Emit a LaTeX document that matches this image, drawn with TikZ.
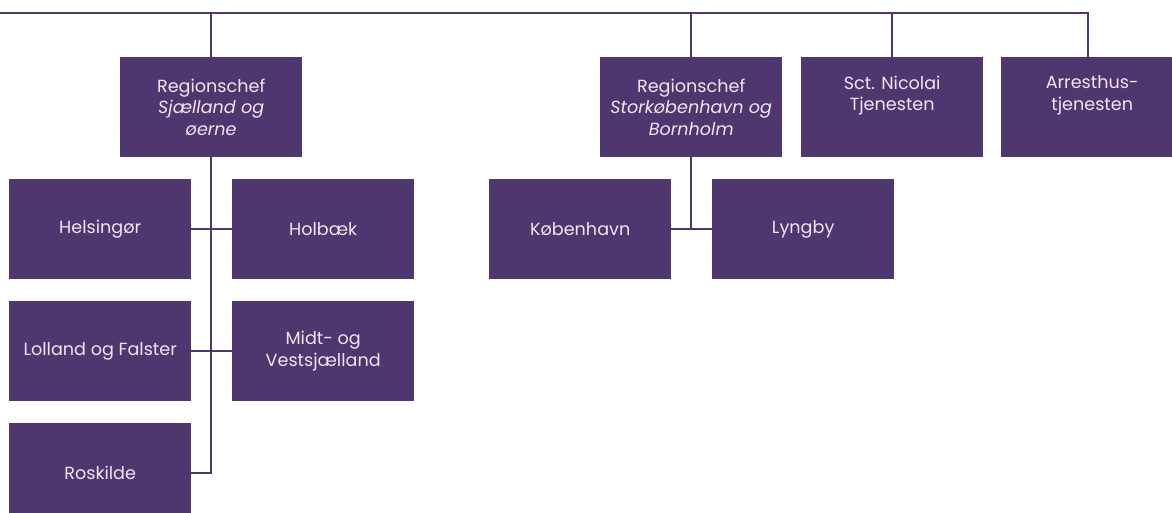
\documentclass[tikz,border=0pt]{standalone}
\usepackage{fontspec}
\setmainfont{Poppins}
\usepackage{tikz}
\usetikzlibrary{positioning, calc}
\definecolor{unitcolor}{RGB}{80,54,110}
\definecolor{unittext}{RGB}{236,230,243}

\begin{document}
\begin{tikzpicture}[x=1pt, y=-1pt,
    % Styles
    unit/.style={fill=unitcolor, text=unittext, minimum width=182pt, minimum height=100pt,
        inner sep=0, anchor=north west, align=center, font=\fontsize{17.6}{21.5}\selectfont},
    conn/.style={draw=unitcolor, line width=2pt},
]
    \useasboundingbox (0,0) rectangle (1172,513);

    % === Top row ===
    \node[unit] (reg-sj) at (120, 57) {Regionschef\\\textit{Sjælland og}\\\textit{øerne}};
    \node[unit] (reg-kbh) at (600, 57) {Regionschef\\\textit{Storkøbenhavn og}\\\textit{Bornholm}};
    \node[unit] (sct) at (801, 57) {Sct. Nicolai\\Tjenesten\\\strut};
    \node[unit] (arrest) at (1001, 57) {Arresthus-\\tjenesten\\\strut};

    % === Sjaelland og oerne ===
    \node[unit] (helsingoer) at (9, 179) {Helsingør};
    \node[unit] (holbaek) at (232, 179) {Holbæk};
    \node[unit] (lolland) at (9, 301) {Lolland og Falster};
    \node[unit] (midt) at (232, 301) {Midt- og\\Vestsjælland};
    \node[unit] (roskilde) at (9, 423) {Roskilde};

    % === Storkoebenhavn og Bornholm ===
    \node[unit] (kbh) at (489, 179) {København};
    \node[unit] (lyngby) at (712, 179) {Lyngby};

    % Top line, free end at the left edge
    \coordinate (top-left) at (0, 13);
    \draw[conn] (top-left) -| ([xshift=-4pt]arrest.north);
    \draw[conn] (reg-sj.north) -- (reg-sj.north |- top-left);
    \draw[conn] (reg-kbh.north) -- (reg-kbh.north |- top-left);
    \draw[conn] (sct.north) -- (sct.north |- top-left);

    % Left tree
    \draw[conn] (reg-sj.south) -- (reg-sj.south |- roskilde.east) -- (roskilde.east);
    \draw[conn] (helsingoer.east) -- (holbaek.west);
    \draw[conn] (lolland.east) -- (midt.west);

    % Right tree
    \draw[conn] (reg-kbh.south) -- (reg-kbh.south |- kbh.east);
    \draw[conn] (kbh.east) -- (lyngby.west);
\end{tikzpicture}
\end{document}
